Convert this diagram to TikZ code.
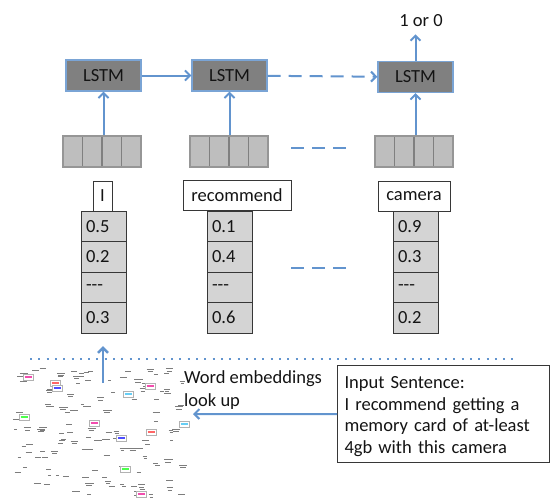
\documentclass[tikz,border=0pt]{standalone}
\usepackage{fontspec}
\setmainfont{Carlito}
\usetikzlibrary{arrows.meta,calc}

\definecolor{linkblue}{RGB}{98,148,206}
\definecolor{lstmgray}{RGB}{128,128,128}
\definecolor{vecgray}{RGB}{190,190,190}
\definecolor{vecedge}{RGB}{150,150,150}
\definecolor{cellgray}{RGB}{212,212,212}
\definecolor{darkedge}{RGB}{55,55,55}
\definecolor{inktext}{RGB}{20,20,20}
\definecolor{markgray}{RGB}{125,125,125}

\tikzset{
  txt/.style={font=\fontsize{18.5}{22}\selectfont, text=inktext},
  lstmbox/.style={txt, draw=linkblue!85, fill=lstmgray, line width=1.2pt,
    minimum width=75pt, minimum height=31pt, inner sep=0pt},
  vecbox/.style={draw=vecedge, fill=vecgray, line width=1.2pt,
    minimum width=78pt, minimum height=31pt, inner sep=0pt,
    path picture={
      \foreach \k in {1,2,3}{
        \draw[vecedge!85!black, line width=1.2pt]
          ($(path picture bounding box.north west)!\k/4!(path picture bounding box.north east)$) --
          ($(path picture bounding box.south west)!\k/4!(path picture bounding box.south east)$);
      }}},
  wordbox/.style={txt, draw=darkedge, fill=white, line width=1pt,
    minimum height=30pt, inner sep=0pt},
  numcell/.style={txt, draw=darkedge, fill=cellgray, line width=1pt,
    text width=35pt, inner xsep=5pt, inner ysep=0pt, align=left,
    minimum height=30.5pt},
  flow/.style={draw=linkblue, line width=2pt, -{Straight Barb[length=5pt,width=10pt]}},
  flowdash/.style={flow, dash pattern=on 13pt off 8pt},
  gapdash/.style={draw=linkblue, line width=2pt, dash pattern=on 13pt off 8pt},
  dotline/.style={draw=linkblue, line width=2pt, dash pattern=on 2pt off 6.3pt},
  wordmark/.style={draw=markgray, line width=0.9pt},
}

\begin{document}
\begin{tikzpicture}[x=1pt,y=-1pt]
\useasboundingbox (0,0) rectangle (552,499);

% LSTM cells
\node[lstmbox] (lstm1) at (103.5,75.5) {LSTM};
\node[lstmbox] (lstm2) at (229.5,75.5) {LSTM};
\node[lstmbox] (lstm3) at (415.5,77) {LSTM};
\node[txt, inner sep=0pt] (out) at (421,21) {1 or 0};

% embedding vectors
\node[vecbox] (v1) at (102,151.5) {};
\node[vecbox] (v2) at (229,151.5) {};
\node[vecbox] (v3) at (414,151.5) {};

% words
\node[wordbox, minimum width=19pt] (w1) at (102.5,196) {I};
\node[wordbox, minimum width=108pt] (w2) at (237,195.5) {recommend};
\node[wordbox, minimum width=72pt] (w3) at (414,196) {camera};

% embedding values
\node[numcell] (c1a) at (103.5,226.25) {0.5};
\node[numcell] (c1b) at (103.5,256.75) {0.2};
\node[numcell] (c1c) at (103.5,287.25) {-{}-{}-};
\node[numcell] (c1d) at (103.5,317.75) {0.3};
\node[numcell] (c2a) at (229.5,226.25) {0.1};
\node[numcell] (c2b) at (229.5,256.75) {0.4};
\node[numcell] (c2c) at (229.5,287.25) {-{}-{}-};
\node[numcell] (c2d) at (229.5,317.75) {0.6};
\node[numcell] (c3a) at (415.5,226.25) {0.9};
\node[numcell] (c3b) at (415.5,256.75) {0.3};
\node[numcell] (c3c) at (415.5,287.25) {-{}-{}-};
\node[numcell] (c3d) at (415.5,317.75) {0.2};

% recurrent links
\draw[flow] (lstm1) -- (lstm2);
\draw[flowdash] (lstm2) -- (lstm3);
\draw[flow] (lstm3.north) -- ([yshift=-7pt]lstm3.north |- out.south);

% inputs to LSTM cells
\draw[flow] (v1.north -| lstm1) -- (lstm1.south);
\draw[flow] (v2.north -| lstm2) -- (lstm2.south);
\draw[flow] (v3.north -| lstm3) -- (lstm3.south);

% ellipsis dashes
\coordinate (ga) at (291,148);
\coordinate (gb) at (349,148);
\coordinate (gc) at (291,268);
\coordinate (gd) at (349,268);
\draw[gapdash] (ga) -- (gb);
\draw[gapdash] (gc) -- (gd);

% separator
\coordinate (sl) at (30,359);
\coordinate (sr) at (514,359);
\draw[dotline] (sl) -- (sr);

% word embedding space
\pgfmathsetseed{4242}
\foreach \i in {1,...,85}{
  \pgfmathsetmacro\px{12+168*rnd}
  \pgfmathsetmacro\py{368+128*rnd}
  \pgfmathsetmacro\pl{3+5*rnd}
  \draw[wordmark] (\px,\py) -- ++(\pl,0);
}
\foreach \i in {1,...,40}{
  \pgfmathsetmacro\px{12+168*rnd}
  \pgfmathsetmacro\py{368+128*rnd}
  \pgfmathsetmacro\pl{4+5*rnd}
  \draw[wordmark] (\px,\py) -- ++(\pl,0);
  \draw[wordmark] (\px+1,\py+2.4) -- ++(\pl*0.7,0);
}
\foreach \x/\y/\c in {28/377/magenta!70, 55/383/red!60, 57/388/blue!70,
  128/394/cyan!60, 24/417/green!70, 94/423/magenta!70, 121/438/blue!70,
  125/469/green!70, 150/386/magenta!70, 184/424/cyan!60, 151/432/red!60,
  141/494/magenta!70}{
  \draw[gray!60, line width=0.5pt, fill=white] (\x-5,\y-3) rectangle (\x+5,\y+3);
  \draw[\c, line width=1.2pt] (\x-3.5,\y) -- (\x+3.5,\y);
}

% lookup arrow into the first embedding
\coordinate (cloudtop) at (103,383);
\coordinate (coltip) at (103,346);
\draw[flow, line width=2.5pt] (cloudtop) -- (coltip);

% input sentence and lookup
\node[txt, draw=darkedge, fill=white, line width=1pt, anchor=north west,
  text width=198pt, inner xsep=7pt, inner ysep=6pt, align=left,
  font=\fontsize{18.5}{21.7}\selectfont] (inp) at (337,365)
  {\rule{0pt}{17pt}Input Sentence:\\I recommend getting a\\memory card of at-least\\4gb with this camera};
\node[txt, anchor=north west, inner sep=0pt, align=left,
  font=\fontsize{18.5}{23.4}\selectfont] (look) at (184,370.5)
  {Word embeddings\\look up};
\coordinate (lookin) at (193,414);
\draw[flow] (inp.west) -- (lookin);
\end{tikzpicture}
\end{document}
